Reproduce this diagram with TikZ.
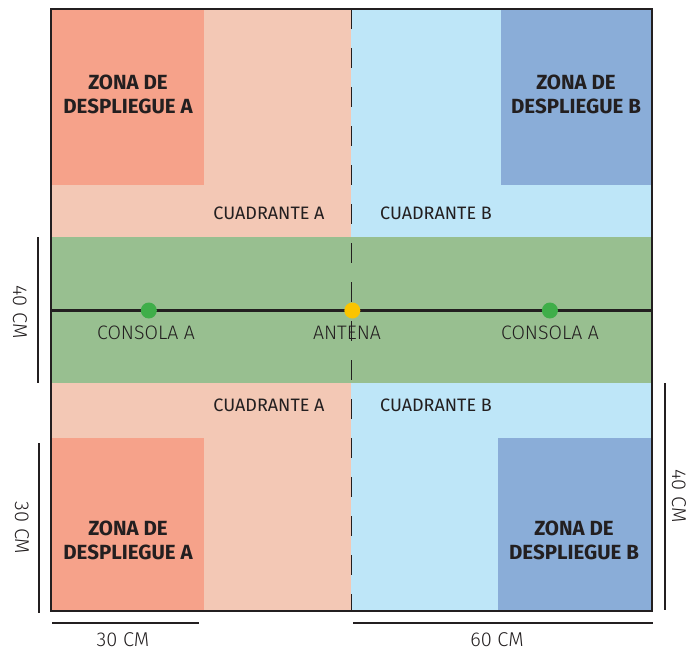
\documentclass[tikz,border=0pt]{standalone}
\usepackage{fontspec}
\setmainfont{Fira Sans}
\newfontfamily\lightfont{Fira Sans Light}
\definecolor{quadA}{HTML}{F3C8B5}
\definecolor{quadB}{HTML}{BEE6F8}
\definecolor{zoneA}{HTML}{F6A28A}
\definecolor{zoneB}{HTML}{8AADD8}
\definecolor{band}{HTML}{98BF90}
\definecolor{console}{HTML}{3FAE49}
\definecolor{antenna}{HTML}{FAC400}
\definecolor{ink}{HTML}{231F20}

\begin{document}
\begin{tikzpicture}[x=1pt, y=-1pt, line width=1.5pt, draw=ink, text=ink,
    zonelabel/.style={font=\bfseries\fontsize{20.5}{23.5}\selectfont, align=center, inner sep=0pt},
    quadlabel/.style={font=\fontsize{18}{22}\selectfont, inner sep=0pt},
    pointlabel/.style={font=\lightfont\fontsize{19.5}{22}\selectfont, inner sep=0pt},
    dimlabel/.style={font=\lightfont\fontsize{20}{24}\selectfont, inner sep=0pt}]
    \useasboundingbox (0, 0) rectangle (699, 651);
    % quadrants and zones
    \fill[quadA] (51, 9) rectangle (351, 611);
    \fill[quadB] (351, 9) rectangle (652, 611);
    \fill[zoneA] (51, 9) rectangle (204, 185);
    \fill[zoneB] (501, 9) rectangle (652, 185);
    \fill[zoneA] (51, 438) rectangle (204, 611);
    \fill[zoneB] (498, 438) rectangle (652, 611);
    \fill[band] (51, 237) rectangle (652, 383);
    \node[zonelabel] (zoneAtop) at (128, 94.5) {ZONA DE\\DESPLIEGUE A};
    \node[zonelabel] (zoneBtop) at (576, 94.5) {ZONA DE\\DESPLIEGUE B};
    \node[zonelabel] (zoneAbot) at (128, 540.5) {ZONA DE\\DESPLIEGUE A};
    \node[zonelabel] (zoneBbot) at (574, 540.5) {ZONA DE\\DESPLIEGUE B};
    \node[quadlabel] (quadAtop) at (269, 213.5) {CUADRANTE A};
    \node[quadlabel] (quadBtop) at (436, 213.5) {CUADRANTE B};
    \node[quadlabel] (quadAbot) at (269, 405.5) {CUADRANTE A};
    \node[quadlabel] (quadBbot) at (436, 405.5) {CUADRANTE B};
    \node[pointlabel] (consA) at (146, 332.5) {CONSOLA A};
    \node[pointlabel] (ant) at (347, 332.5) {ANTENA};
    \node[pointlabel] (consB) at (550, 332.5) {CONSOLA A};
    % field lines
    \draw[dash pattern=on 20pt off 19pt] (351.5, 9) -- (351.5, 611);
    \draw[line width=2.2pt] (51, 310.5) -- (652, 310.5);
    \draw (51, 9) rectangle (652, 611);
    \fill[console] (148.8, 310.5) circle [radius=8];
    \fill[antenna] (352.3, 310.5) circle [radius=8];
    \fill[console] (549.9, 310.5) circle [radius=8];
    % dimensions
    \draw (38, 237) -- (38, 383);
    \node[dimlabel, rotate=-90] (dimA) at (20, 312) {40 CM};
    \draw (39, 443) -- (39, 613);
    \node[dimlabel, rotate=-90] (dimB) at (22, 528) {30 CM};
    \draw (665, 383) -- (665, 610);
    \node[dimlabel, rotate=-90] (dimC) at (679, 496) {40 CM};
    \draw (52, 623) -- (199, 623);
    \node[dimlabel] (dimD) at (123, 639.5) {30 CM};
    \draw (353, 623) -- (653, 623);
    \node[dimlabel] (dimE) at (497, 639.5) {60 CM};
\end{tikzpicture}
\end{document}
